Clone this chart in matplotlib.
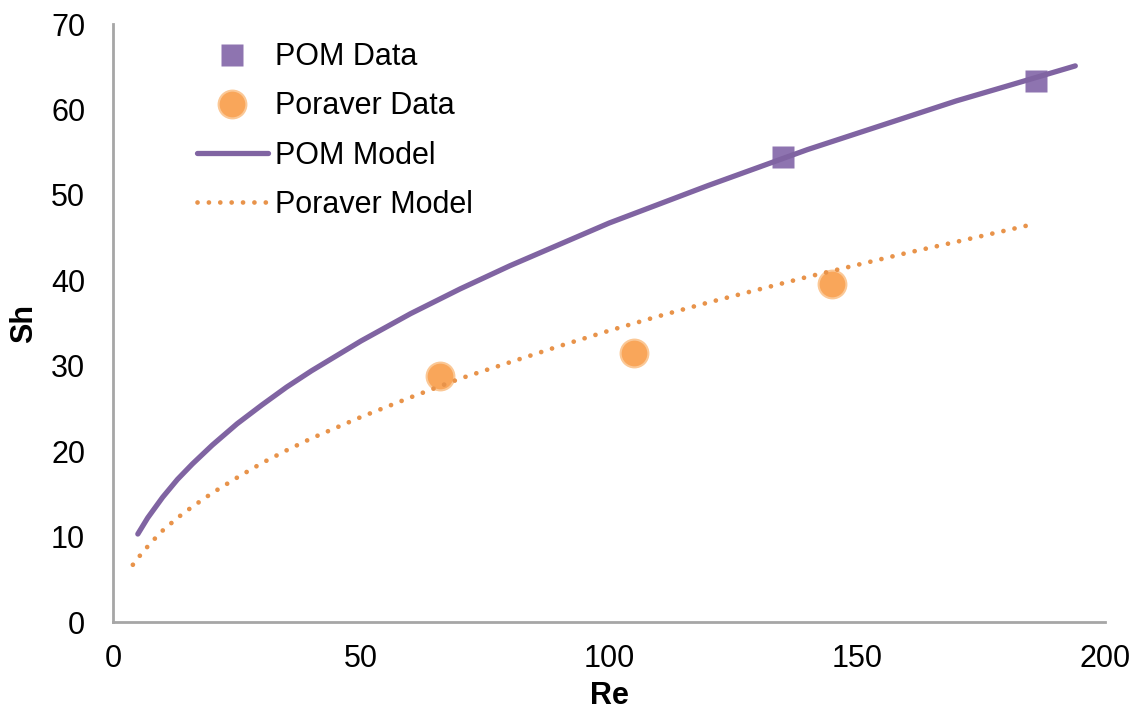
import numpy as np
import matplotlib.pyplot as plt

plt.rcParams['font.family'] = ['Liberation Sans', 'DejaVu Sans']

# measured points
pom_re = [135, 186]
pom_sh = [54.4, 63.3]
por_re = [66, 105, 145]
por_sh = [28.8, 31.5, 39.6]

# model curves
pom_mod_re = [5, 7, 10, 13, 16, 20, 25, 30, 35, 40, 50, 60, 70, 80, 90, 100,
              110, 120, 130, 140, 150, 160, 170, 180, 194]
pom_mod_sh = [10.3, 12.2, 14.6, 16.7, 18.5, 20.7, 23.2, 25.4, 27.5, 29.4, 32.9, 36.1, 39.0,
              41.7, 44.2, 46.7, 48.9, 51.1, 53.2, 55.3, 57.2, 59.1, 61.0, 62.7, 65.1]
por_mod_re = [4, 6, 8, 10, 13, 16, 20, 25, 30, 35, 40, 50, 60, 70, 80, 90, 100,
              110, 120, 130, 140, 150, 160, 170, 185]
por_mod_sh = [6.7, 8.2, 9.5, 10.7, 12.2, 13.5, 15.1, 16.9, 18.6, 20.1, 21.5, 24.0, 26.3,
              28.5, 30.4, 32.3, 34.1, 35.8, 37.4, 38.9, 40.4, 41.8, 43.2, 44.5, 46.5]

purple = '#8064A2'
orange = '#E8934A'

fig = plt.figure(figsize=(11.37, 7.09), dpi=100)
ax = fig.add_axes([0.0994, 0.1227, 0.8725, 0.8434])

ax.plot(pom_re, pom_sh, 's', color='#8E74B0', ms=15.5, mec='none', label='POM Data', zorder=2)
ax.plot(por_re, por_sh, 'o', color='#F9A65A', ms=20, mec='#FBC896', mew=1.5, label='Poraver Data', zorder=2)
ax.plot(pom_mod_re, pom_mod_sh, '-', color=purple, lw=3.8, solid_capstyle='round',
        solid_joinstyle='round', label='POM Model', zorder=3)
ax.plot(por_mod_re, por_mod_sh, color=orange, lw=3.4, linestyle=(0, (0.01, 2.4)),
        dash_capstyle='round', label='Poraver Model', zorder=3)

ax.set_xlim(0, 200)
ax.set_ylim(0, 70)
ax.set_xticks(np.arange(0, 201, 50))
ax.set_yticks(np.arange(0, 71, 10))
ax.tick_params(length=0, labelsize=22)
ax.tick_params(axis='y', pad=20)
ax.tick_params(axis='x', pad=16)
for s in ['top', 'right']:
    ax.spines[s].set_visible(False)
for s in ['left', 'bottom']:
    ax.spines[s].set_color('#A6A6A6')
    ax.spines[s].set_linewidth(2)

ax.set_xlabel('Re', fontsize=22, fontweight='bold', labelpad=5)
ax.set_ylabel('Sh', fontsize=22, fontweight='bold', labelpad=9)

ax.legend(loc='upper left', bbox_to_anchor=(0.0726, 0.99), frameon=False, fontsize=22,
          handlelength=2.3, handletextpad=0.26, labelspacing=0.63, borderaxespad=0)

fig.savefig('out.png', dpi=100)
